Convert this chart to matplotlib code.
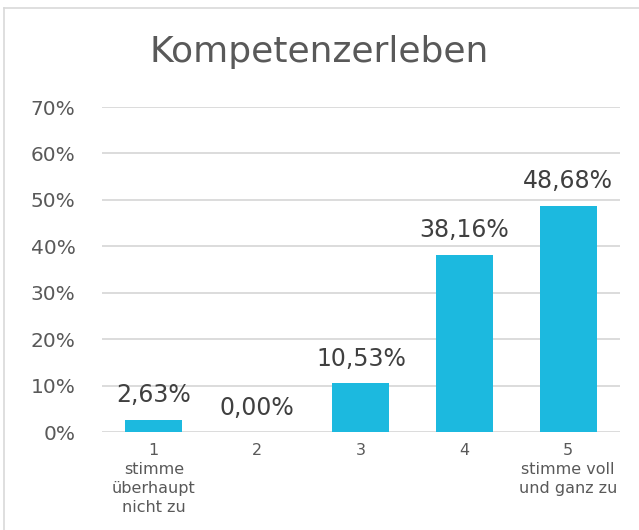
import numpy as np
import matplotlib.pyplot as plt
from matplotlib.lines import Line2D

plt.rcParams['font.family'] = ['DejaVu Sans']

title = 'Kompetenzerleben'
categories = ['1\nstimme\nüberhaupt\nnicht zu', '2', '3', '4', '5\nstimme voll\nund ganz zu']
values = [0.0263, 0.0, 0.1053, 0.3816, 0.4868]
labels = ['2,63%', '0,00%', '10,53%', '38,16%', '48,68%']
yticks = [0, 0.1, 0.2, 0.3, 0.4, 0.5, 0.6, 0.7]

grey = '#595959'
bar_col = '#1CB9DF'

fig = plt.figure(figsize=(6.39, 5.30), dpi=100)
ax = fig.add_axes([0.1596, 0.1849, 0.8104, 0.6132])

x = np.arange(len(values))
ax.bar(x, values, width=0.55, color=bar_col, zorder=3)
for xi, v, lab in zip(x, values, labels):
    ax.annotate(lab, (xi, v), xytext=(0, 9), textcoords='offset points',
                ha='center', va='bottom', fontsize=17, color='#404040')

ax.set_xlim(-0.5, 4.5)
ax.set_ylim(0, 0.7)
ax.set_yticks(yticks)
ax.set_yticklabels(['%d%%' % round(t * 100) for t in yticks])
ax.set_xticks(x)
ax.set_xticklabels(categories, linespacing=1.32)
ax.tick_params(axis='y', length=0, labelsize=14.5, labelcolor=grey, pad=19)
ax.tick_params(axis='x', length=0, labelsize=11.5, labelcolor=grey, pad=8)
for lab in ax.get_xticklabels():
    lab.set_verticalalignment('top')
ax.grid(axis='y', color='#D9D9D9', lw=1.3, zorder=0)
for s in ax.spines.values():
    s.set_visible(False)

fig.text(0.5, 0.902, title, ha='center', va='center', fontsize=26, color=grey)

# outer chart frame
fig.add_artist(Line2D([0.007, 0.007], [0, 0.985], transform=fig.transFigure, color='#D9D9D9', lw=1.2))
fig.add_artist(Line2D([0.007, 1.0], [0.985, 0.985], transform=fig.transFigure, color='#D9D9D9', lw=1.2))

fig.savefig('out.png', dpi=100)
